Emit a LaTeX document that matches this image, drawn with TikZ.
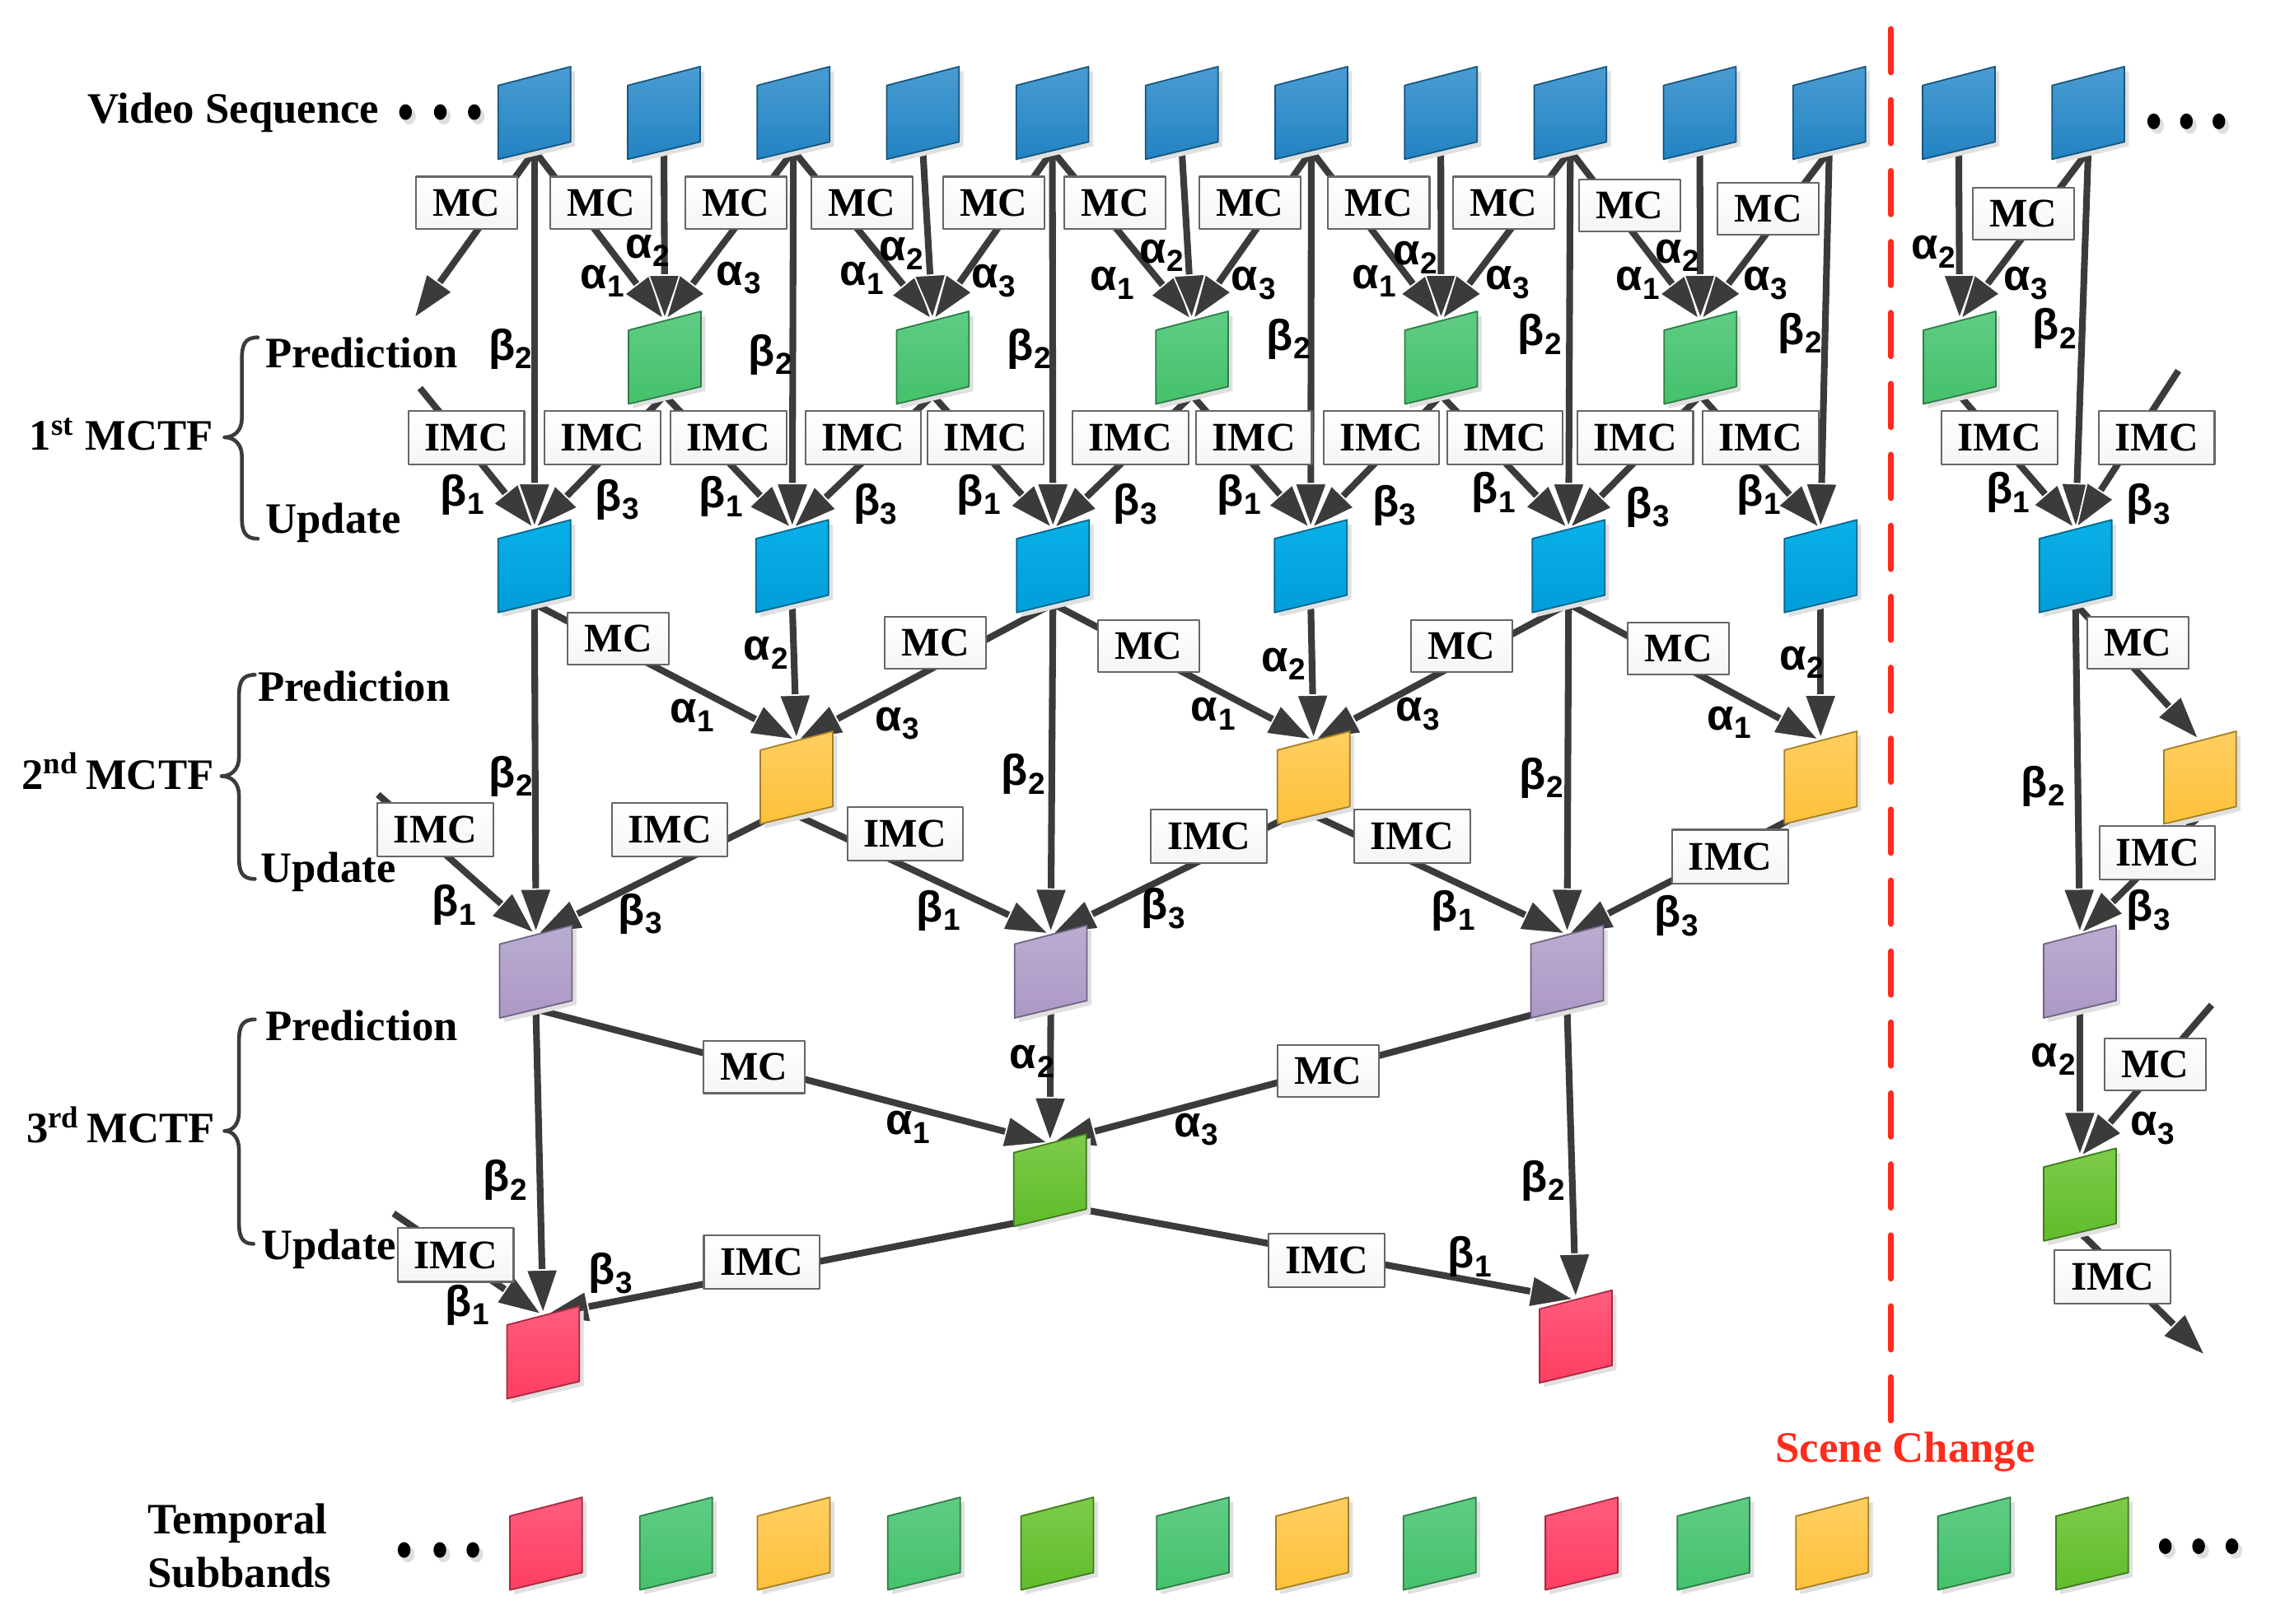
\documentclass[tikz,border=0pt]{standalone}
\usepackage{fontspec}
\setmainfont{Liberation Serif}
\newfontfamily\gkfam{Liberation Sans}
\usetikzlibrary{arrows.meta}
\pgfdeclarelayer{bg}
\pgfsetlayers{bg,main}
\definecolor{dgray}{HTML}{3B3B3B}
\definecolor{vtop}{HTML}{4A9CD2}\definecolor{vbot}{HTML}{2283C2}
\definecolor{ctop}{HTML}{0AB0E8}\definecolor{cbot}{HTML}{009DD9}
\definecolor{gtop}{HTML}{60CC85}\definecolor{gbot}{HTML}{45C16B}
\definecolor{otop}{HTML}{FFCF62}\definecolor{obot}{HTML}{FDC03A}
\definecolor{ptop}{HTML}{BAADD0}\definecolor{pbot}{HTML}{AC98C6}
\definecolor{ltop}{HTML}{7DCB4A}\definecolor{lbot}{HTML}{60BC2B}
\definecolor{rtop}{HTML}{FF5C7E}\definecolor{rbot}{HTML}{FF3E61}
\definecolor{scred}{HTML}{FF2B1C}
% frame: name, left x, top-right y, colour prefix
\newcommand\frm[4]{%
  \fill[black!12] ({#2+3},{#3+16}) -- ({#2+53},{#3+3}) -- ({#2+53},{#3+55}) -- ({#2+3},{#3+67}) -- cycle;
  \path[draw=#4bot!65!black, line width=0.5pt, top color=#4top, bottom color=#4bot]
     ({#2},{#3+13}) -- ({#2+50},{#3}) -- ({#2+50},{#3+52}) -- ({#2},{#3+64}) -- cycle;
  \coordinate (#1-t) at ({#2+25},{#3+6.5});
  \coordinate (#1-b) at ({#2+25},{#3+58});
  \coordinate (#1-bl) at ({#2+4},{#3+61});
  \coordinate (#1-br) at ({#2+46},{#3+52});
}
\newcommand\sbs[1]{\kern0.2pt\raisebox{-3pt}{\fontsize{10.5}{10.5}\selectfont #1}}
\newcommand\gal[1]{α\sbs{#1}}
\newcommand\gbe[1]{β\sbs{#1}}
\begin{document}
\begin{tikzpicture}[x=0.5pt,y=-0.5pt,line join=round,
  arr/.style={draw=dgray, line width=2.3pt,
     -{Triangle[length=16pt,width=11.5pt,fill=dgray,color=white,line width=0.5pt]}},
  mc/.style={draw=black!60, line width=0.6pt, top color=white, bottom color=black!4,
     font=\bfseries\fontsize{14}{14}\selectfont, minimum width=35pt, minimum height=18pt, inner sep=0pt},
  imc/.style={mc, minimum width=40pt, minimum height=18.5pt},
  gk/.style={font=\gkfam\bfseries\fontsize{15}{15}\selectfont, inner sep=0pt},
  lbl/.style={font=\bfseries\fontsize{15}{15}\selectfont, inner sep=0pt, anchor=base west},
  brc/.style={draw=dgray, line width=1.3pt, line cap=round}]
\useasboundingbox (0,0) rectangle (1568,1121);
\begin{pgfonlayer}{bg}
\fill[white] (0,0) rectangle (1568,1121);
\end{pgfonlayer}

% ---------------- frames ----------------
\foreach \i in {0,...,12} {\frm{f\i}{344+89.4*\i}{46}{v}}
\foreach \n/\x in {g1/434,g3/619,g5/798,g7/970,g9/1149,g11/1328} {\frm{\n}{\x}{215}{g}}
\foreach \n/\x in {c0/344,c2/522,c4/702,c6/880,c8/1058,c10/1232,c12/1408} {\frm{\n}{\x}{359}{c}}
\foreach \n/\x in {o2/525,o6/882,o10/1232,o12/1494} {\frm{\n}{\x}{505}{o}}
\foreach \n/\x in {p0/345,p4/700.5,p8/1057,p12/1411} {\frm{\n}{\x}{639}{p}}
\frm{l4}{700}{783}{l}
\frm{l12}{1411}{793}{l}
\frm{r0}{350}{902}{r}
\frm{r8}{1063}{891}{r}
\foreach \x/\cl [count=\k from 0] in {352/r,441.8/g,523/o,613/g,705/l,798.6/g,881/o,969/g,1067/r,1158/g,1240/o,1338/g,1419.5/l}
  {\frm{s\k}{\x}{1034}{\cl}}

% free ends
\coordinate (xA) at (285,221);
\coordinate (xB) at (1523.5,937);
\coordinate (stA) at (290,268);
\coordinate (stB) at (1504,256);
\coordinate (stC) at (261,548.7);
\coordinate (stD) at (271.7,838);
\coordinate (stE) at (1527,694);

% ---------------- connectors ----------------
\begin{pgfonlayer}{bg}
% level 1 prediction
\draw[arr] (f0-b) -- (xA);
\foreach \a/\b in {0/1,1/1,2/1,2/3,3/3,4/3,4/5,5/5,6/5,6/7,7/7,8/7,8/9,9/9,10/9,11/11,12/11}
  {\draw[arr] (f\a-b) -- (g\b-t);}
% level 1 update
\foreach \a in {0,2,4,6,8,10,12} {\draw[arr] (f\a-b) -- (c\a-t);}
\draw[arr] (stA) -- (c0-t);
\foreach \a/\b in {1/0,1/2,3/2,3/4,5/4,5/6,7/6,7/8,9/8,9/10,11/12}
  {\draw[arr] (g\a-b) -- (c\b-t);}
\draw[arr] (stB) -- (c12-t);
% level 2 prediction
\foreach \a/\b in {0/2,2/2,4/2,4/6,6/6,8/6,8/10,10/10,12/12}
  {\draw[arr] (c\a-b) -- (o\b-t);}
% level 2 update
\foreach \a in {0,4,8,12} {\draw[arr] (c\a-b) -- (p\a-t);}
\draw[arr] (stC) -- (p0-t);
\draw[arr] (o2-bl) -- (p0-t);
\draw[arr] (o2-b) -- (p4-t);
\draw[arr] (o6-bl) -- (p4-t);
\draw[arr] (o6-b) -- (p8-t);
\draw[arr] (o10-bl) -- (p8-t);
\draw[arr] (o12-b) -- (p12-t);
% level 3
\draw[arr] (p0-b) -- (l4-t);
\draw[arr] (p4-b) -- (l4-t);
\draw[arr] (p8-bl) -- (l4-t);
\draw[arr] (p0-b) -- (r0-t);
\draw[arr] (p8-b) -- (r8-t);
\draw[arr] (stD) -- (r0-t);
\draw[arr] (l4-bl) -- (r0-t);
\draw[arr] (l4-br) -- (r8-t);
\draw[arr] (p12-b) -- (l12-t);
\draw[arr] (stE) -- (l12-t);
\draw[arr] (l12-b) -- (xB);
\end{pgfonlayer}

% ---------------- MC / IMC boxes ----------------
\foreach \x/\y [count=\k] in {322/140,415/140,508/140,595/140,686/140,770/140,863/140,952/140,1038/140,1125/142,1221/144,1397/147.5,
   427/441,646/444,793/446,1009/446,1159/448,1476/444,520.5/737,917/739.5,1488/735}
  {\node[mc] (mc\k) at (\x,\y) {MC};}
\foreach \x/\y [count=\k] in {322/302.5,416/302.5,503/302.5,596/302.5,680.5/302.5,780.5/302.5,865.7/302.5,953.7/302.5,1039/302.5,1129/302.5,1215.5/302.5,1380.5/302.5,1489/302.5,
   300.6/573,462.4/573,625/576,834.7/577.6,975/577.6,1194.6/591.5,1489.5/589,
   314.6/866.7,526/871.8,916/870.5,1458.6/881.7}
  {\node[imc] (imc\k) at (\x,\y) {IMC};}

% ---------------- weights ----------------
\foreach \x/\y [count=\k] in {416/194,595/192,768/195.5,949/194,1131/195.5,478/494,837.6/493,1193.8/499,627/778.4}
  {\node[gk] (aI\k) at (\x,\y) {\gal{1}};}
\foreach \x/\y [count=\k] in {447/173,622.5/175,802/176.5,977/178,1158/176.5,1335/174,528.8/451,886.2/458.6,1244/457.3,712.5/733,1417.7/731.5}
  {\node[gk] (aII\k) at (\x,\y) {\gal{2}};}
\foreach \x/\y [count=\k] in {510/192,686/194,865.5/195.5,1041/195,1219/195.5,1398.6/195.5,619.6/499.7,978.7/493,826/780,1486.4/779}
  {\node[gk] (aIII\k) at (\x,\y) {\gal{3}};}
\foreach \x/\y [count=\k] in {319/341.5,497.6/343,676/341.5,855.4/341.5,1031/340,1214.6/341.5,1386.4/340,313.7/625,648/628.7,1003.4/628.7,322.5/901.3,1015/868}
  {\node[gk] (bI\k) at (\x,\y) {\gbe{1}};}
\foreach \x/\y [count=\k] in {352.5/241,532/245,710.7/241,889.8/234,1063/231,1243/230,1418.4/227,353/536,706.7/534.7,1064/537.3,1410.7/543,348.9/815,1065.4/815.2}
  {\node[gk] (bII\k) at (\x,\y) {\gbe{2}};}
\foreach \x/\y [count=\k] in {426/345,604.4/348,784/348,962.7/349,1137.5/350,1483.6/348,441.8/631,803.2/627.4,1157.3/632.5,1483.6/628.6,421.5/879.4}
  {\node[gk] (bIII\k) at (\x,\y) {\gbe{3}};}

% ---------------- left labels ----------------
\node[lbl] (vs) at (60,85) {Video Sequence};
\node[lbl] (m1) at (20,311) {1\textsuperscript{st} MCTF};
\node[lbl] (pr1) at (183,254) {Prediction};
\node[lbl] (up1) at (183,368) {Update};
\node[lbl] (m2) at (14.5,545) {2\textsuperscript{nd}\,MCTF};
\node[lbl] (pr2) at (177.7,484) {Prediction};
\node[lbl] (up2) at (179.5,609.6) {Update};
\node[lbl] (m3) at (17.8,789.3) {3\textsuperscript{rd}\,MCTF};
\node[lbl] (pr3) at (183,718.8) {Prediction};
\node[lbl] (up3) at (180,869.6) {Update};
\node[lbl] (ts1) at (101.6,1059.5) {Temporal};
\node[lbl] (ts2) at (101.6,1096) {Subbands};

% braces
\draw[brc] (178,233) .. controls (169,233) and (167,238) .. (167,248) -- (167,289)
  .. controls (167,297) and (162,302) .. (155,302) .. controls (162,302) and (167,307) .. (167,315)
  -- (167,357) .. controls (167,367) and (169,372) .. (178,372);
\draw[brc] (176,466) .. controls (167,466) and (165,471) .. (165,481) -- (165,523)
  .. controls (165,531) and (160,536) .. (153,536) .. controls (160,536) and (165,541) .. (165,549)
  -- (165,592) .. controls (165,602) and (167,607) .. (176,607);
\draw[brc] (176,704) .. controls (167,704) and (165,709) .. (165,719) -- (165,768)
  .. controls (165,776) and (161,781) .. (155,781) .. controls (161,781) and (165,786) .. (165,794)
  -- (165,844) .. controls (165,854) and (167,859) .. (175,859);

% ellipsis dots
\foreach \x/\y in {280/77.4,304/77.4,327.5/77.4,279/1070.4,303.7/1070.4,326.5/1070.4,
                   1487/83.8,1509.6/83.8,1532/83.8,1495/1067.8,1518/1067.8,1541/1067.8}
  {\fill[black!13] (\x+2.5,\y+3) ellipse [x radius=2.3pt, y radius=2.8pt];
   \fill[black] (\x,\y) ellipse [x radius=2.2pt, y radius=2.7pt];}

% scene change
\draw[scred, line width=2pt, dash pattern=on 15pt off 9.5pt, line cap=round] (1305.5,20) -- (1305.5,984);
\node[font=\bfseries\fontsize{15}{15}\selectfont, text=scred, inner sep=0pt, anchor=base] (sc) at (1315.5,1009.6) {Scene Change};
\end{tikzpicture}
\end{document}
